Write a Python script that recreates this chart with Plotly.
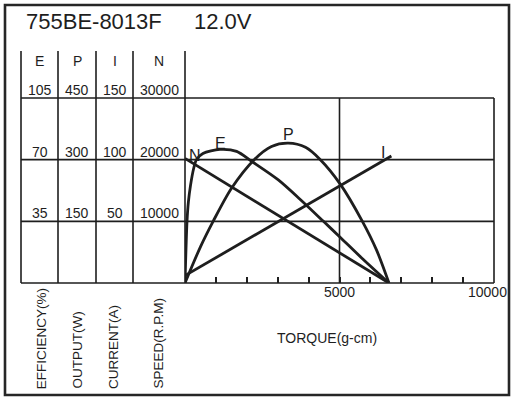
import plotly.graph_objects as go

# torque in g-cm
torque_N = [0, 6600]
speed = [20200, 0]

torque_I = [0, 6680]
current = [6, 103]

torque_E = [0, 65, 110, 175, 280, 370, 580, 1130, 1670, 2160, 3020, 3730, 4480, 5020, 5700, 6600]
efficiency = [0, 35, 46, 55, 65, 70, 73.5, 75.8, 74.7, 69, 58.5, 47.4, 35, 26, 14.5, 0]

torque_P = [0, 500, 910, 1500, 2240, 2800, 3340, 3900, 4380, 5030, 5740, 6200, 6600]
power = [0, 88, 150, 230, 300, 332, 340, 330, 300, 240, 150, 80, 0]

# column scales
E_ticks = [35, 70, 105]
P_ticks = [150, 300, 450]
I_ticks = [50, 100, 150]
N_ticks = [10000, 20000, 30000]
x_labels = [5000, 10000]

FONT = "Liberation Sans, Arial, sans-serif"
INK = "#1e1e1e"

W, H = 516, 400
L, R, T, B = 185, 22, 98, 117
pw, ph = W - L - R, H - T - B


def px(x):
    # pixel -> paper x
    return (x - L) / pw


def py(y):
    # pixel -> paper y
    return (H - B - y) / ph


fig = go.Figure()
curve = dict(color=INK, width=2.8)
fig.add_trace(go.Scatter(x=torque_N, y=speed, mode="lines", line=curve, yaxis="y"))
fig.add_trace(go.Scatter(x=torque_E, y=efficiency, mode="lines",
                         line=dict(curve, shape="spline", smoothing=0.8), yaxis="y2"))
fig.add_trace(go.Scatter(x=torque_P, y=power, mode="lines",
                         line=dict(curve, shape="spline", smoothing=0.8), yaxis="y3"))
fig.add_trace(go.Scatter(x=torque_I, y=current, mode="lines", line=curve, yaxis="y4"))

grid = dict(color=INK, width=1.6)
shapes = []
# outer frame
shapes.append(dict(type="rect", xref="paper", yref="paper", x0=px(5), x1=px(509),
                   y0=py(395), y1=py(5), line=dict(color="#262626", width=2.6)))
# horizontal lines through the columns and the plot
cols = [21, 58, 96, 133]
for yv in (0, 1):
    shapes.append(dict(type="line", xref="paper", yref="paper", x0=px(cols[0]), x1=1,
                       y0=yv, y1=yv, line=grid))
for v in N_ticks[:-1]:
    shapes.append(dict(type="line", xref="paper", yref="y", x0=px(cols[0]), x1=1,
                       y0=v, y1=v, line=grid))
# column separators and y axis
for c in cols:
    shapes.append(dict(type="line", xref="paper", yref="paper", x0=px(c), x1=px(c),
                       y0=0, y1=py(51), line=grid))
shapes.append(dict(type="line", xref="paper", yref="paper", x0=0, x1=0,
                   y0=0, y1=py(51), line=grid))
shapes.append(dict(type="line", xref="paper", yref="paper", x0=1, x1=1,
                   y0=0, y1=1, line=grid))
shapes.append(dict(type="line", xref="x", yref="paper", x0=5000, x1=5000,
                   y0=0, y1=1, line=grid))

ann = []


def text(s, x, y, xref="paper", yref="paper", size=14, **kw):
    a = dict(text=s, x=x, y=y, xref=xref, yref=yref, showarrow=False,
             xanchor="center", yanchor="middle",
             font=dict(family=FONT, size=size, color=INK))
    a.update(kw)
    ann.append(a)


text("755BE-8013F", px(24), py(21), size=22, xanchor="left")
text("12.0V", px(192), py(21), size=22, xanchor="left")

centers = [39.5, 77, 114.5, 159]
for name, cx in zip(["E", "P", "I", "N"], centers):
    text(name, px(cx), py(61), size=14)

for ticks, cx, ax in zip([E_ticks, P_ticks, I_ticks, N_ticks], centers, ["y2", "y3", "y4", "y"]):
    for v in ticks:
        text(str(v), px(cx), v, yref=ax, size=14, yshift=8)

rot = [("EFFICIENCY(%)", 41.7), ("OUTPUT(W)", 77), ("CURRENT(A)", 113), ("SPEED(R.P.M)", 158)]
for s, cx in rot:
    text(s, px(cx), py(391), size=13.5, textangle=-90, yanchor="bottom")

text("5000", x_labels[0], py(291.7), xref="x", size=14)
text("10000", x_labels[1], py(291.7), xref="x", size=14, xanchor="right", xshift=15)
text("TORQUE(g-cm)", px(327), py(337.5), size=14)

# curve names
text("N", 314, 20700, xref="x", yref="y", size=16)
text("E", 1133, 78.9, xref="x", yref="y2", size=16)
text("P", 3343, 362, xref="x", yref="y3", size=16)
text("I", 6392, 105.8, xref="x", yref="y4", size=16)

hidden = dict(visible=False, fixedrange=True)
fig.update_layout(
    width=W, height=H,
    margin=dict(l=L, r=R, t=T, b=B, pad=0),
    paper_bgcolor="white", plot_bgcolor="white",
    showlegend=False,
    xaxis=dict(range=[0, 10000], ticks="inside", tickvals=list(range(0, 10001, 1000)),
               ticklen=6, tickwidth=1.5, tickcolor=INK, showticklabels=False,
               showgrid=False, zeroline=False, showline=False, fixedrange=True),
    yaxis=dict(range=[0, 30000], **hidden),
    yaxis2=dict(range=[0, 105], overlaying="y", **hidden),
    yaxis3=dict(range=[0, 450], overlaying="y", **hidden),
    yaxis4=dict(range=[0, 150], overlaying="y", **hidden),
    shapes=shapes,
    annotations=ann,
)

# page body margin would push the 516x400 figure out of the window
fig.write_html("out.html", config={"displayModeBar": False},
               post_script="document.body.style.margin='0px';")
